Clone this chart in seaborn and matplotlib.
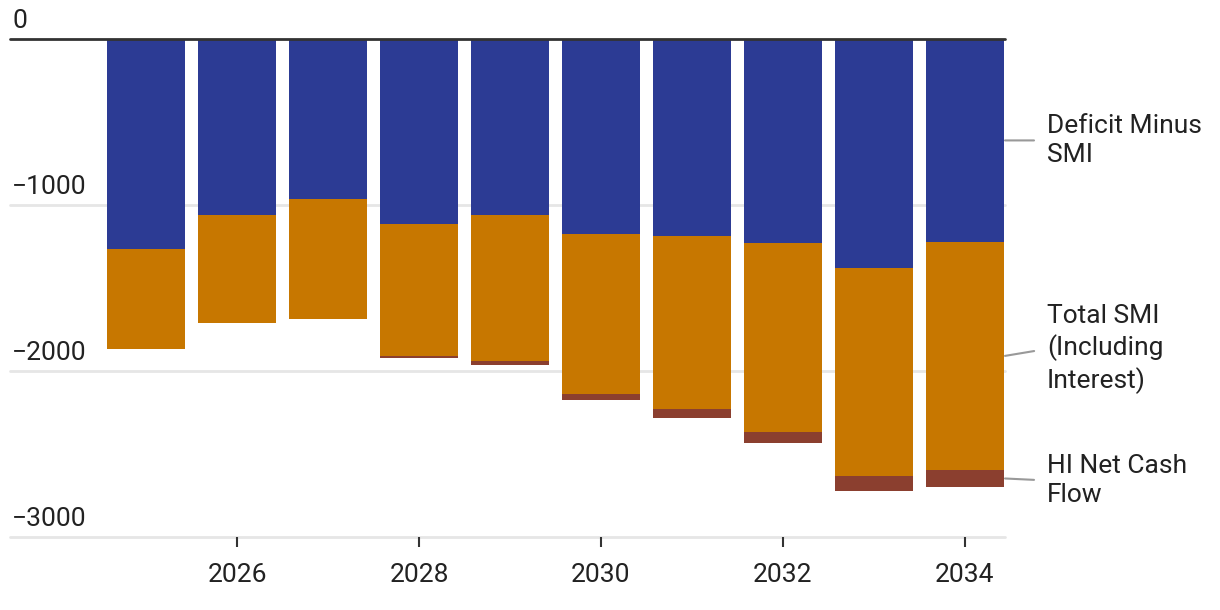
import numpy as np
import pandas as pd
import matplotlib
matplotlib.use("Agg")
import matplotlib.pyplot as plt
import matplotlib.transforms as mtransforms
import seaborn as sns

# data (billions)
years = [2025, 2026, 2027, 2028, 2029, 2030, 2031, 2032, 2033, 2034]
deficit_minus_smi = [-1265, -1060, -965, -1115, -1060, -1175, -1187, -1228, -1378, -1222]
total_smi = [-603, -651, -724, -797, -882, -966, -1042, -1139, -1255, -1374]
hi_net_cash_flow = [0, 0, 0, -12, -24, -36, -54, -67, -90, -103]

series_names = ["Deficit Minus SMI", "Total SMI (Including Interest)", "HI Net Cash Flow"]
series_labels = ["Deficit Minus\nSMI", "Total SMI\n(Including\nInterest)", "HI Net Cash\nFlow"]
colors = ["#2c3b94", "#c77700", "#8b3f2f"]

y_ticks = [0, -1000, -2000, -3000]
x_ticks = [2026, 2028, 2030, 2032, 2034]


def main():
    sns.set_style("white")
    plt.rcParams["font.family"] = ["Roboto", "DejaVu Sans"]
    fs = 19

    df = pd.DataFrame({
        "year": years,
        series_names[0]: deficit_minus_smi,
        series_names[1]: total_smi,
        series_names[2]: hi_net_cash_flow,
    })
    # cumulative levels for stacking (draw deepest first)
    cum = df[series_names].cumsum(axis=1)

    fig = plt.figure(figsize=(12.2, 6.1), dpi=100)
    ax = fig.add_axes([10 / 1220, 1 - 537 / 610, 995 / 1220, 498 / 610])

    for name, col in zip(reversed(series_names), reversed(colors)):
        sns.barplot(x=df["year"], y=cum[name], native_scale=True, width=0.857,
                    color=col, saturation=1, errorbar=None, linewidth=0, ax=ax)

    ax.set_xlim(2023.505, 2034.44)
    ax.set_ylim(-3000, 0)

    # grid + zero line
    for t in y_ticks:
        if t == 0:
            ax.axhline(t, color="#333333", lw=2, zorder=5, clip_on=False)
        else:
            ax.axhline(t, color="#e6e6e6", lw=2, zorder=0, clip_on=False)

    # y labels sit above their gridlines
    trans = mtransforms.blended_transform_factory(ax.transAxes, ax.transData)
    off = mtransforms.offset_copy(trans, fig=fig, x=2, y=6, units="dots")
    for t in y_ticks:
        lab = "0" if t == 0 else "\u2212" + str(abs(t))
        ax.text(0, t, lab, transform=off, ha="left", va="bottom",
                fontsize=fs, color="#222222")
    ax.set_yticks([])

    ax.set_xticks(x_ticks)
    ax.set_xticklabels([str(x) for x in x_ticks], fontsize=fs, color="#222222")
    ax.tick_params(axis="x", length=7, width=1.5, color="#333333", pad=12, bottom=True)
    ax.set_xlabel("")
    ax.set_ylabel("")
    sns.despine(ax=ax, left=True, bottom=True)

    # right-hand series labels with leader lines to the last bar
    last = cum.iloc[-1]
    tops = [0, last[series_names[0]], last[series_names[1]]]
    nudges = [0, 7, -2]
    for i, lab in enumerate(series_labels):
        mid = (tops[i] + last[series_names[i]]) / 2
        ax.annotate(lab, xy=(2034.44, mid), xycoords="data",
                    xytext=(42, nudges[i]), textcoords="offset pixels",
                    ha="left", va="center", fontsize=fs, color="#222222",
                    linespacing=1.3, annotation_clip=False,
                    arrowprops=dict(arrowstyle="-", color="#999999", lw=1.5,
                                    shrinkA=7, shrinkB=0, relpos=(0, 0.5)))

    fig.savefig("out.png", dpi=100)


if __name__ == "__main__":
    main()
